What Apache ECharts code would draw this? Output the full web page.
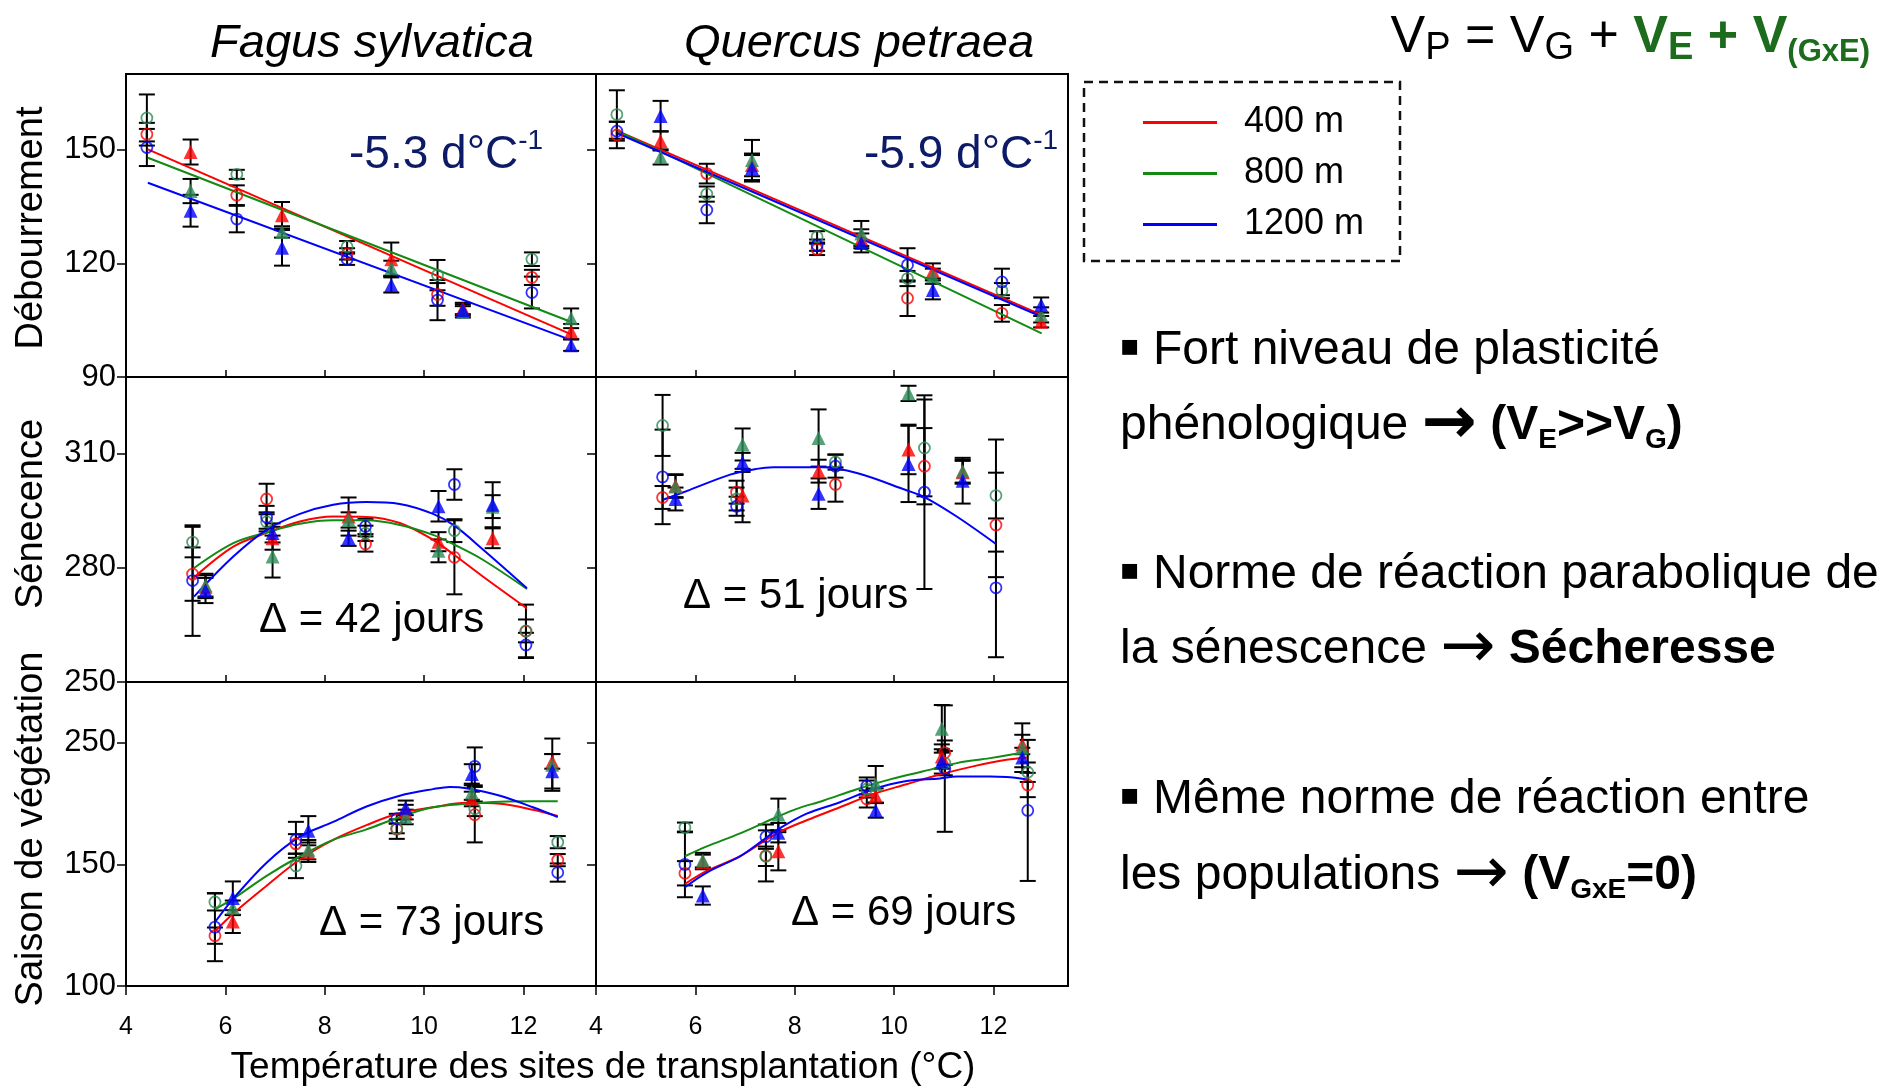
<!DOCTYPE html>
<html><head><meta charset="utf-8">
<script src="https://cdn.jsdelivr.net/npm/echarts@6/dist/echarts.min.js"></script>
<style>html,body{margin:0;padding:0;background:#fff}#c{width:1888px;height:1089px}</style>
</head><body><div id="c"></div>
<script>
// ================= DATA =================
const pops = ['400 m', '800 m', '1200 m'];
const xTickVals = [4, 6, 8, 10, 12];
const xInnerTicks = [6, 8, 10, 12];
const budTickVals = [90, 120, 150];
const senTickVals = [250, 280, 310];
const seaTickVals = [50, 150, 250];
const seaTickText = ['100', '150', '250'];

// site temperatures (°C): circles = one year, triangles = other year
const budCircT = [4.42, 6.23, 8.45, 10.27, 12.17];
const budTriT  = [5.30, 7.14, 9.34, 10.78, 12.96];
const senCircT = [5.34, 6.83, 8.82, 10.61, 12.05];
const senTriT  = [5.60, 6.95, 8.48, 10.29, 11.38];
const seaCircT = [5.79, 7.42, 9.45, 11.02, 12.69];
const seaTriT  = [6.15, 7.67, 9.63, 10.96, 12.58];

// ---- Fagus sylvatica : débourrement ----  [400 m, 800 m, 1200 m]
const fagBudCirc    = [[154.1, 138.0, 122.5, 111.8, 116.3], [158.4, 143.5, 124.4, 116.9, 121.1], [150.6, 131.7, 121.1, 110.3, 112.3]];
const fagBudCircErr = [[3.0, 2.6, 1.5, 3.0, 2.0], [6.2, 1.2, 1.5, 4.0, 1.8], [4.9, 3.5, 1.5, 5.3, 4.2]];
const fagBudTri     = [[149.4, 132.7, 121.1, 108.1, 102.0], [139.1, 128.3, 118.7, 107.2, 105.5], [133.9, 124.1, 114.3, 107.7, 98.4]];
const fagBudTriErr  = [[3.3, 3.5, 4.4, 1.5, 2.0], [3.2, 1.5, 2.0, 1.5, 2.6], [4.2, 4.7, 2.0, 1.5, 1.5]];
const fagBudLineT   = [[4.44, 12.95], [4.44, 12.95], [4.44, 12.95]];
const fagBudLine    = [[150.1, 101.3], [147.9, 104.6], [141.3, 99.8]];

// ---- Quercus petraea : débourrement ----
const querBudCirc    = [[153.9, 143.7, 123.7, 110.8, 106.8], [159.3, 138.3, 127.0, 116.0, 112.8], [154.9, 134.1, 124.8, 119.6, 115.1]];
const querBudCircErr = [[3.5, 2.6, 1.5, 4.7, 2.2], [6.4, 2.0, 1.5, 2.0, 2.0], [2.5, 3.5, 1.5, 4.4, 3.5]];
const querBudTri     = [[152.3, 146.0, 126.5, 118.0, 104.6], [148.1, 147.3, 127.9, 116.6, 106.4], [158.9, 145.1, 125.4, 113.0, 109.0]];
const querBudTriErr  = [[2.5, 3.0, 2.5, 2.0, 1.5], [2.0, 5.3, 3.3, 2.0, 2.0], [4.0, 3.5, 2.5, 2.5, 2.0]];
const querBudLineT   = [[4.44, 12.97], [4.44, 12.97], [4.44, 12.97]];
const querBudLine    = [[154.9, 106.4], [154.9, 101.5], [154.3, 105.9]];

// ---- Fagus sylvatica : sénescence ----
const fagSenCirc    = [[278.3, 298.0, 286.2, 282.7, 263.3], [286.7, 292.0, 289.0, 289.7, 263.4], [276.6, 293.2, 290.8, 301.8, 259.7]];
const fagSenCircErr = [[7.0, 4.0, 2.0, 9.7, 7.0], [4.0, 2.5, 2.0, 3.0, 3.0], [14.5, 3.0, 2.0, 4.0, 3.2]];
const fagSenTri     = [[275.0, 287.7, 293.4, 286.8, 287.7], [275.4, 282.9, 292.5, 284.4, 296.0], [274.0, 289.1, 287.7, 296.1, 296.5]];
const fagSenTriErr  = [[3.0, 3.0, 5.0, 2.5, 2.6], [3.0, 5.5, 2.0, 3.0, 3.0], [3.3, 2.5, 2.0, 4.0, 5.9]];
const fagSenCurveT  = [
  [5.35, 6.16, 6.83, 7.50, 8.17, 8.84, 9.51, 10.18, 10.61, 11.19, 12.07],
  [5.35, 6.16, 6.83, 7.50, 8.17, 8.84, 9.51, 10.18, 10.61, 11.19, 12.07],
  [5.37, 6.16, 6.83, 7.50, 8.17, 8.84, 9.51, 10.18, 10.61, 11.19, 12.07]];
const fagSenCurve   = [
  [277.2, 285.5, 289.1, 292.1, 293.4, 293.3, 291.7, 287.3, 283.3, 277.6, 269.3],
  [279.7, 286.4, 289.2, 291.5, 292.4, 292.4, 291.2, 288.6, 286.0, 282.0, 274.4],
  [272.4, 282.9, 289.9, 294.1, 296.5, 297.2, 296.7, 294.1, 291.0, 284.7, 274.6]];

// ---- Quercus petraea : sénescence ----
const querSenCirc    = [[298.4, 299.8, 301.8, 306.6, 291.2], [317.3, 298.0, 307.7, 311.4, 298.9], [303.8, 296.1, 306.6, 299.8, 274.7]];
const querSenCircErr = [[3.0, 3.0, 4.5, 10.0, 13.7], [8.0, 3.0, 2.0, 12.7, 14.7], [12.4, 2.5, 3.0, 25.4, 18.2]];
const querSenTri     = [[301.5, 298.9, 305.3, 311.0, 305.0], [301.3, 312.3, 314.0, 325.7, 305.3], [298.0, 307.6, 299.4, 307.2, 302.8]];
const querSenTriErr  = [[3.0, 7.0, 3.0, 6.5, 3.0], [3.0, 4.2, 7.5, 2.0, 3.0], [3.0, 2.5, 4.0, 10.0, 6.0]];
const querSenCurveT  = [null, null, [5.35, 5.89, 6.70, 7.23, 7.57, 8.57, 9.25, 10.25, 10.61, 11.26, 12.05]];
const querSenCurve   = [null, null, [297.8, 300.4, 304.4, 305.9, 306.3, 306.3, 304.8, 300.3, 298.5, 293.4, 286.2]];

// ---- Fagus sylvatica : saison de végétation ----
const fagSeaCirc    = [[91.4, 166.9, 179.0, 190.9, 153.5], [119.1, 148.7, 179.6, 195.7, 168.3], [98.4, 170.2, 187.6, 230.6, 143.3]];
const fagSeaCircErr = [[6.7, 8.0, 8.0, 22.8, 5.0], [7.0, 10.0, 4.0, 6.0, 5.0], [28.0, 14.8, 4.0, 15.6, 7.5]];
const fagSeaTri     = [[103.0, 160.0, 193.0, 203.8, 234.7], [114.3, 162.1, 189.0, 209.1, 232.0], [122.3, 177.7, 196.5, 224.4, 226.6]];
const fagSeaTriErr  = [[9.4, 8.0, 6.0, 6.0, 6.0], [6.0, 8.0, 6.0, 6.0, 21.5], [13.7, 12.0, 6.0, 8.0, 14.2]];
const fagSeaCurveT  = [
  [5.79, 6.16, 6.83, 7.50, 8.17, 8.84, 9.51, 10.18, 10.85, 11.53, 12.19, 12.69],
  [5.79, 6.16, 6.83, 7.50, 8.17, 8.84, 9.51, 10.18, 10.85, 11.53, 12.19, 12.69],
  [5.79, 6.16, 6.83, 7.50, 8.17, 8.84, 9.51, 10.18, 10.52, 10.85, 11.53, 12.19, 12.69]];
const fagSeaCurve   = [
  [94.9, 109.7, 132.5, 154.0, 170.2, 182.3, 192.2, 197.0, 200.6, 199.8, 194.9, 189.8],
  [113.1, 121.8, 140.6, 156.7, 170.2, 178.8, 189.0, 197.0, 199.8, 201.6, 201.9, 201.9],
  [102.4, 121.8, 151.4, 172.8, 184.9, 197.6, 206.5, 211.9, 213.7, 212.7, 206.5, 197.0, 189.0]];

// ---- Quercus petraea : saison de végétation ----
const querSeaCirc    = [[142.7, 157.0, 203.8, 241.9, 215.3], [180.4, 156.7, 212.0, 233.3, 225.8], [150.0, 172.8, 214.5, 228.8, 194.4]];
const querSeaCircErr = [[10.0, 21.0, 7.0, 10.0, 10.0], [4.0, 8.0, 7.0, 10.0, 8.0], [27.0, 10.0, 7.0, 52.0, 58.0]];
const querSeaTri     = [[152.0, 160.8, 206.5, 238.7, 248.6], [153.5, 191.1, 215.9, 261.5, 246.0], [124.4, 176.1, 194.4, 234.7, 237.9]];
const querSeaTriErr  = [[6.0, 15.7, 6.0, 10.0, 8.0], [6.0, 13.0, 15.0, 19.6, 20.0], [7.5, 8.0, 6.0, 10.0, 8.0]];
const querSeaCurveT  = [
  [5.79, 6.23, 6.90, 7.64, 8.24, 8.91, 9.58, 10.25, 10.92, 11.59, 12.26, 12.68],
  [5.79, 6.23, 6.90, 7.64, 8.04, 8.57, 9.25, 9.92, 10.59, 11.26, 11.93, 12.68],
  [5.79, 6.23, 6.90, 7.37, 7.64, 8.24, 8.91, 9.58, 10.25, 10.92, 11.26, 11.93, 12.26, 12.68]];
const querSeaCurve   = [
  [133.9, 144.6, 156.7, 175.5, 186.3, 197.0, 207.8, 215.9, 223.9, 230.6, 236.0, 237.9],
  [156.7, 164.8, 175.5, 189.0, 195.7, 202.4, 211.8, 219.9, 226.6, 233.3, 237.4, 242.7],
  [131.2, 143.3, 156.7, 170.2, 178.2, 191.7, 201.1, 211.8, 218.5, 220.7, 222.3, 222.3, 221.8, 219.9]];

// ================= STYLE / LAYOUT =================
const FONT = "'Liberation Sans', Arial, Helvetica, sans-serif";
const ARROW_FONT = "'DejaVu Sans', sans-serif";
const markerColor = ['#ff0000', '#2e8b57', '#0000ff'];
const lineColor = ['#ff0000', '#138a13', '#0000ff'];
const gridPos = [
  {left: 126, top: 74, width: 470, height: 303},
  {left: 596, top: 74, width: 472, height: 303},
  {left: 126, top: 377, width: 470, height: 305},
  {left: 596, top: 377, width: 472, height: 305},
  {left: 126, top: 682, width: 470, height: 304},
  {left: 596, top: 682, width: 472, height: 304}
];
const yRanges = [[90, 170], [250, 330], [50, 300]];
const yTicks = [budTickVals, senTickVals, seaTickVals];

const panels = [
  {cT: budCircT, c: fagBudCirc, cE: fagBudCircErr, tT: budTriT, t: fagBudTri, tE: fagBudTriErr, lT: fagBudLineT, l: fagBudLine, smooth: false},
  {cT: budCircT, c: querBudCirc, cE: querBudCircErr, tT: budTriT, t: querBudTri, tE: querBudTriErr, lT: querBudLineT, l: querBudLine, smooth: false},
  {cT: senCircT, c: fagSenCirc, cE: fagSenCircErr, tT: senTriT, t: fagSenTri, tE: fagSenTriErr, lT: fagSenCurveT, l: fagSenCurve, smooth: 0.35},
  {cT: senCircT, c: querSenCirc, cE: querSenCircErr, tT: senTriT, t: querSenTri, tE: querSenTriErr, lT: querSenCurveT, l: querSenCurve, smooth: 0.35},
  {cT: seaCircT, c: fagSeaCirc, cE: fagSeaCircErr, tT: seaTriT, t: fagSeaTri, tE: fagSeaTriErr, lT: fagSeaCurveT, l: fagSeaCurve, smooth: 0.35},
  {cT: seaCircT, c: querSeaCirc, cE: querSeaCircErr, tT: seaTriT, t: querSeaTri, tE: querSeaTriErr, lT: querSeaCurveT, l: querSeaCurve, smooth: 0.35}
];

const grids = [], xAxes = [], yAxes = [], series = [];

function renderErr(params, api) {
  const x = api.value(0), v = api.value(1), e = api.value(2);
  const top = api.coord([x, v + e]);
  const bot = api.coord([x, v - e]);
  const hw = 8;
  const st = {stroke: '#000', lineWidth: 2};
  return {type: 'group', children: [
    {type: 'line', shape: {x1: top[0], y1: top[1], x2: bot[0], y2: bot[1]}, style: st},
    {type: 'line', shape: {x1: top[0] - hw, y1: top[1], x2: top[0] + hw, y2: top[1]}, style: st},
    {type: 'line', shape: {x1: bot[0] - hw, y1: bot[1], x2: bot[0] + hw, y2: bot[1]}, style: st}
  ]};
}

panels.forEach((P, g) => {
  const col = g % 2, row = Math.floor(g / 2);
  grids.push(Object.assign({show: true, borderColor: '#000', borderWidth: 2, backgroundColor: 'transparent', containLabel: false}, gridPos[g]));
  xAxes.push({
    gridIndex: g, type: 'value', min: 4, max: col ? 13.5 : 13.46,
    axisLine: {show: true, onZero: false, lineStyle: {color: '#000', width: 2}},
    splitLine: {show: false},
    axisTick: {show: true, inside: row < 2, length: row < 2 ? 7 : 9, lineStyle: {color: '#000', width: 1.5},
               customValues: row < 2 ? xInnerTicks : xTickVals},
    axisLabel: {show: row === 2, customValues: xTickVals, fontSize: 25, fontFamily: FONT, color: '#000', margin: 29}
  });
  yAxes.push({
    gridIndex: g, type: 'value', min: yRanges[row][0], max: yRanges[row][1],
    axisLine: {show: true, onZero: false, lineStyle: {color: '#000', width: 2}},
    splitLine: {show: false},
    axisTick: {show: true, inside: false, length: 9, lineStyle: {color: '#000', width: 1.5}, customValues: yTicks[row]},
    axisLabel: {show: col === 0, customValues: yTicks[row], fontSize: 31, fontFamily: FONT, color: '#000', margin: 10,
      formatter: row === 2 ? (v) => seaTickText[seaTickVals.indexOf(v)] : (v) => String(v)}
  });
  // error bars
  const errData = [];
  for (let p = 0; p < 3; p++) {
    P.cT.forEach((t, i) => errData.push([t, P.c[p][i], P.cE[p][i]]));
    P.tT.forEach((t, i) => errData.push([t, P.t[p][i], P.tE[p][i]]));
  }
  series.push({type: 'custom', xAxisIndex: g, yAxisIndex: g, renderItem: renderErr, data: errData,
               encode: {x: 0, y: 1}, z: 1, silent: true, clip: false});
  // regression / fitted curves
  for (let p = 0; p < 3; p++) {
    if (!P.lT[p]) continue;
    series.push({type: 'line', name: pops[p], xAxisIndex: g, yAxisIndex: g,
      data: P.lT[p].map((t, i) => [t, P.l[p][i]]), symbol: 'none', showSymbol: false, smooth: P.smooth,
      lineStyle: {color: lineColor[p], width: 2}, itemStyle: {color: lineColor[p]}, z: 3, silent: true});
  }
  // markers
  for (let p = 0; p < 3; p++) {
    series.push({type: 'scatter', name: pops[p] + ' (o)', xAxisIndex: g, yAxisIndex: g, symbol: 'circle', symbolSize: 11,
      itemStyle: {color: 'rgba(255,255,255,0)', borderColor: markerColor[p], borderWidth: 1.8},
      data: P.cT.map((t, i) => [t, P.c[p][i]]), z: 4, silent: true});
    series.push({type: 'scatter', name: pops[p] + ' (▲)', xAxisIndex: g, yAxisIndex: g, symbol: 'triangle', symbolSize: 14,
      itemStyle: {color: markerColor[p]},
      data: P.tT.map((t, i) => [t, P.t[p][i]]), z: 5, silent: true});
  }
});

function txt(x, y, text, st, extra) {
  return Object.assign({type: 'text', x: x, y: y, z: 10, silent: true,
    style: Object.assign({text: text, fill: '#000', font: '40px ' + FONT,
      align: 'left', verticalAlign: 'middle', textAlign: 'left', textVerticalAlign: 'middle'}, st)}, extra || {});
}
const C = {align: 'center', textAlign: 'center'};

const R = (size, weight, color, lh, va, fam) => ({fontSize: size, fontFamily: fam || FONT, fontWeight: weight || 'normal', fill: color || '#000', color: color || '#000', lineHeight: lh, verticalAlign: va});
const bulletRich = {
  n: R(48, 'normal', '#000', 56),
  b: R(48, 'bold', '#000', 56),
  a: R(66, 'normal', '#000', 56, 'middle', ARROW_FONT),
  ab: R(66, 'bold', '#000', 56, 'middle', ARROW_FONT),
  bs: R(28, 'bold', '#000', 16, 'bottom')
};
const GREEN = '#1d6b1d';
const formulaRich = {
  n: R(52, 'normal', '#000', 60),
  s: R(38, 'normal', '#000', 20, 'bottom'),
  g: R(52, 'bold', GREEN, 60),
  gs: R(38, 'bold', GREEN, 20, 'bottom'),
  gs2: R(31, 'bold', GREEN, 18, 'bottom')
};
const NAVY = '#0c1a68';
const slopeRich = {
  m: R(46, 'normal', NAVY, 56),
  sup: R(28, 'normal', NAVY, 36, 'top')
};

const graphics = [
  txt(372, 44, 'Fagus sylvatica', Object.assign({font: 'italic 47px ' + FONT}, C)),
  txt(859, 44, 'Quercus petraea', Object.assign({font: 'italic 47px ' + FONT}, C)),
  txt(32, 228, 'Débourrement', Object.assign({font: '38px ' + FONT}, C), {rotation: Math.PI / 2}),
  txt(32, 514, 'Sénecence', Object.assign({font: '38px ' + FONT}, C), {rotation: Math.PI / 2}),
  txt(32, 829, 'Saison de végétation', Object.assign({font: '38px ' + FONT}, C), {rotation: Math.PI / 2}),
  txt(603, 1068, 'Température des sites de transplantation (°C)', Object.assign({font: '37px ' + FONT}, C)),
  txt(349, 155, '{m|-5.3 d°C}{sup|-1}', {rich: slopeRich}),
  txt(864, 155, '{m|-5.9 d°C}{sup|-1}', {rich: slopeRich}),
  txt(259, 620, 'Δ = 42 jours', {font: '42px ' + FONT}),
  txt(683, 596, 'Δ = 51 jours', {font: '42px ' + FONT}),
  txt(319, 923, 'Δ = 73 jours', {font: '42px ' + FONT}),
  txt(791, 913, 'Δ = 69 jours', {font: '42px ' + FONT}),
  txt(1870, 38, '{n|V}{s|P}{n| = V}{s|G}{n| + }{g|V}{gs|E}{g| + V}{gs2|(GxE)}',
      {rich: formulaRich, align: 'right', textAlign: 'right'}),
  {type: 'rect', z: 10, silent: true, shape: {x: 1084, y: 82, width: 316, height: 179},
   style: {fill: 'none', stroke: '#111', lineWidth: 2.5, lineDash: [9, 6]}},
  txt(1119, 349, '▪', {font: '60px ' + FONT}),
  txt(1153, 351, '{n|Fort niveau de plasticité}', {rich: bulletRich}),
  txt(1120, 426, '{n|phénologique }{ab|→}{b| (V}{bs|E}{b|>>V}{bs|G}{b|)}', {rich: bulletRich}),
  txt(1119, 573, '▪', {font: '60px ' + FONT}),
  txt(1153, 575, '{n|Norme de réaction parabolique de}', {rich: bulletRich}),
  txt(1120, 650, '{n|la sénescence }{a|→}{n| }{b|Sécheresse}', {rich: bulletRich}),
  txt(1119, 798, '▪', {font: '60px ' + FONT}),
  txt(1153, 800, '{n|Même norme de réaction entre}', {rich: bulletRich}),
  txt(1120, 876, '{n|les populations }{a|→}{n| }{b|(V}{bs|GxE}{b|=0)}', {rich: bulletRich})
];

const chart = echarts.init(document.getElementById('c'), null, {renderer: 'canvas'});
chart.setOption({
  animation: false,
  backgroundColor: '#fff',
  grid: grids, xAxis: xAxes, yAxis: yAxes, series: series,
  legend: {
    data: pops, orient: 'vertical', left: 1138, top: 99, icon: 'rect', itemWidth: 74, itemHeight: 3, itemGap: 14,
    selectedMode: false,
    textStyle: {fontSize: 36, fontFamily: FONT, color: '#000', lineHeight: 37, padding: [0, 0, 0, 22]}
  },
  graphic: graphics
});
</script></body></html>
